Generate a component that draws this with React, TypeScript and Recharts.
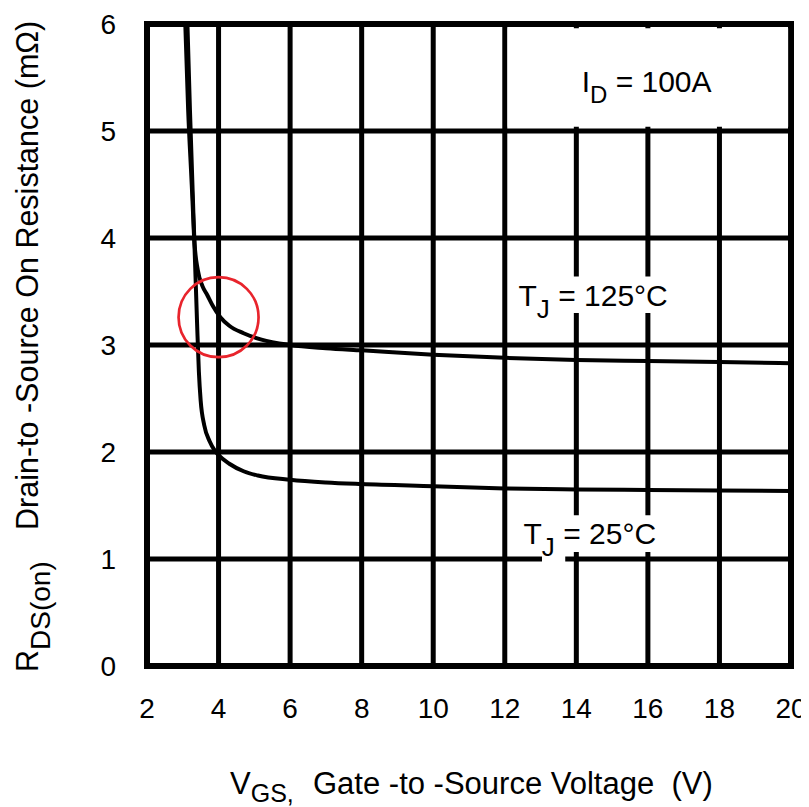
import { LineChart, Line, XAxis, YAxis, CartesianGrid, ReferenceArea, ReferenceDot } from "recharts";

const FONT = '"Liberation Sans", Arial, Helvetica, sans-serif';

// axis ticks
const xTicks = [2, 4, 6, 8, 10, 12, 14, 16, 18, 20];
const yTicks = [0, 1, 2, 3, 4, 5, 6];

// TJ = 25°C curve
const vgs25 = [3.07, 3.15, 3.25, 3.33, 3.4, 3.45, 3.5, 3.6, 3.75, 3.9, 4.0, 4.3, 4.7, 5.1, 6, 7, 8, 10, 12, 14, 16, 18, 20];
const rds25 = [6.0, 5.2, 4.5, 3.9, 3.2, 2.75, 2.48, 2.25, 2.1, 2.01, 1.97, 1.89, 1.82, 1.78, 1.74, 1.715, 1.7, 1.68, 1.66, 1.65, 1.645, 1.64, 1.635];

// TJ = 125°C curve
const vgs125 = [3.13, 3.2, 3.27, 3.33, 3.42, 3.55, 3.68, 3.85, 4.05, 4.3, 4.7, 5.2, 6, 7, 8, 10, 12, 14, 16, 18, 20];
const rds125 = [6.0, 5.2, 4.5, 3.95, 3.7, 3.55, 3.47, 3.36, 3.26, 3.18, 3.11, 3.05, 3.0, 2.97, 2.95, 2.91, 2.88, 2.86, 2.85, 2.84, 2.83];

// highlighted point (red circle)
const markV = 4;
const markR = 3.26;

const data25 = vgs25.map((v, i) => ({ v, r: rds25[i] }));
const data125 = vgs125.map((v, i) => ({ v, r: rds125[i] }));

const txt = { fontFamily: FONT, fill: "#000" };

function IdLabel({ viewBox }: any) {
  if (!viewBox) return null;
  return (
    <text x={viewBox.x + 74} y={viewBox.y + 64} fontSize={30} {...txt}>
      I
      <tspan dy={11} fontSize={24}>D</tspan>
      <tspan dy={-11}> = 100A</tspan>
    </text>
  );
}

function TjLabel({ viewBox, temp, dx, dyBase }: any) {
  if (!viewBox) return null;
  return (
    <text x={viewBox.x + dx} y={viewBox.y + dyBase} fontSize={30} {...txt}>
      T
      <tspan dy={12} fontSize={26}>J</tspan>
      <tspan dy={-12}> = {temp}°C</tspan>
    </text>
  );
}

function XTitle({ viewBox }: any) {
  if (!viewBox) return null;
  const x = viewBox.x;
  const y = viewBox.y;
  return (
    <text x={x + 83} y={y + 128} fontSize={31} {...txt}>
      V
      <tspan dy={8} fontSize={25}>GS,</tspan>
      <tspan x={x + 166} dy={-8}>{"Gate -to -Source Voltage\u00a0\u00a0(V)"}</tspan>
    </text>
  );
}

function YTitle({ viewBox }: any) {
  if (!viewBox) return null;
  const bottom = viewBox.y + viewBox.height;
  return (
    <text transform="rotate(-90)" x={-(bottom + 6)} y={38} fontSize={30.5} {...txt}>
      R
      <tspan dy={12} fontSize={28}>DS(on)</tspan>
      <tspan x={-(bottom - 136)} dy={-12}>Drain-to -Source On Resistance (mΩ)</tspan>
    </text>
  );
}

export default function App() {
  return (
    <div style={{ margin: "-8px 0 0 -8px", width: 809, height: 807, background: "#fff" }}>
      <LineChart width={809} height={807} margin={{ top: 24, right: 18, bottom: 0, left: 0 }}>
        <CartesianGrid stroke="#000" strokeWidth={5} />
        <XAxis
          type="number"
          dataKey="v"
          domain={[2, 20]}
          ticks={xTicks}
          height={141}
          axisLine={false}
          tickLine={false}
          tickSize={0}
          tickMargin={32}
          tick={{ fontSize: 28, fill: "#000", fontFamily: FONT }}
          label={{ content: <XTitle /> }}
        />
        <YAxis
          type="number"
          domain={[0, 6]}
          ticks={yTicks}
          width={147}
          axisLine={false}
          tickLine={false}
          tickSize={0}
          tickMargin={31}
          tick={{ fontSize: 28, fill: "#000", fontFamily: FONT }}
          label={{ content: <YTitle /> }}
        />

        {/* outer frame */}
        <ReferenceArea x1={2} x2={20} y1={0} y2={6} fill="none" stroke="#000" strokeWidth={6} />

        {/* white boxes behind annotations */}
        <ReferenceArea
          x1={12.08}
          x2={19.92}
          y1={5.04}
          y2={5.96}
          fill="#fff"
          fillOpacity={1}
          stroke="none"
          label={{ content: <IdLabel /> }}
        />
        <ReferenceArea
          x1={12.3}
          x2={16.9}
          y1={3.3}
          y2={3.64}
          fill="#fff"
          fillOpacity={1}
          stroke="none"
          label={{ content: <TjLabel temp={125} dx={3} dyBase={29} /> }}
        />
        <ReferenceArea x1={13.04} x2={13.69} y1={0.97} y2={1.07} fill="#fff" fillOpacity={1} stroke="none" />
        <ReferenceArea
          x1={12.3}
          x2={16.75}
          y1={1.065}
          y2={1.41}
          fill="#fff"
          fillOpacity={1}
          stroke="none"
          label={{ content: <TjLabel temp={25} dx={8} dyBase={29} /> }}
        />

        <Line
          data={data125}
          dataKey="r"
          type="monotone"
          stroke="#000"
          strokeWidth={4}
          dot={false}
          activeDot={false}
          isAnimationActive={false}
        />
        <Line
          data={data25}
          dataKey="r"
          type="monotone"
          stroke="#000"
          strokeWidth={4}
          dot={false}
          activeDot={false}
          isAnimationActive={false}
        />

        <ReferenceDot x={markV} y={markR} r={40} fill="none" stroke="#e8242c" strokeWidth={2.7} />
      </LineChart>
    </div>
  );
}
